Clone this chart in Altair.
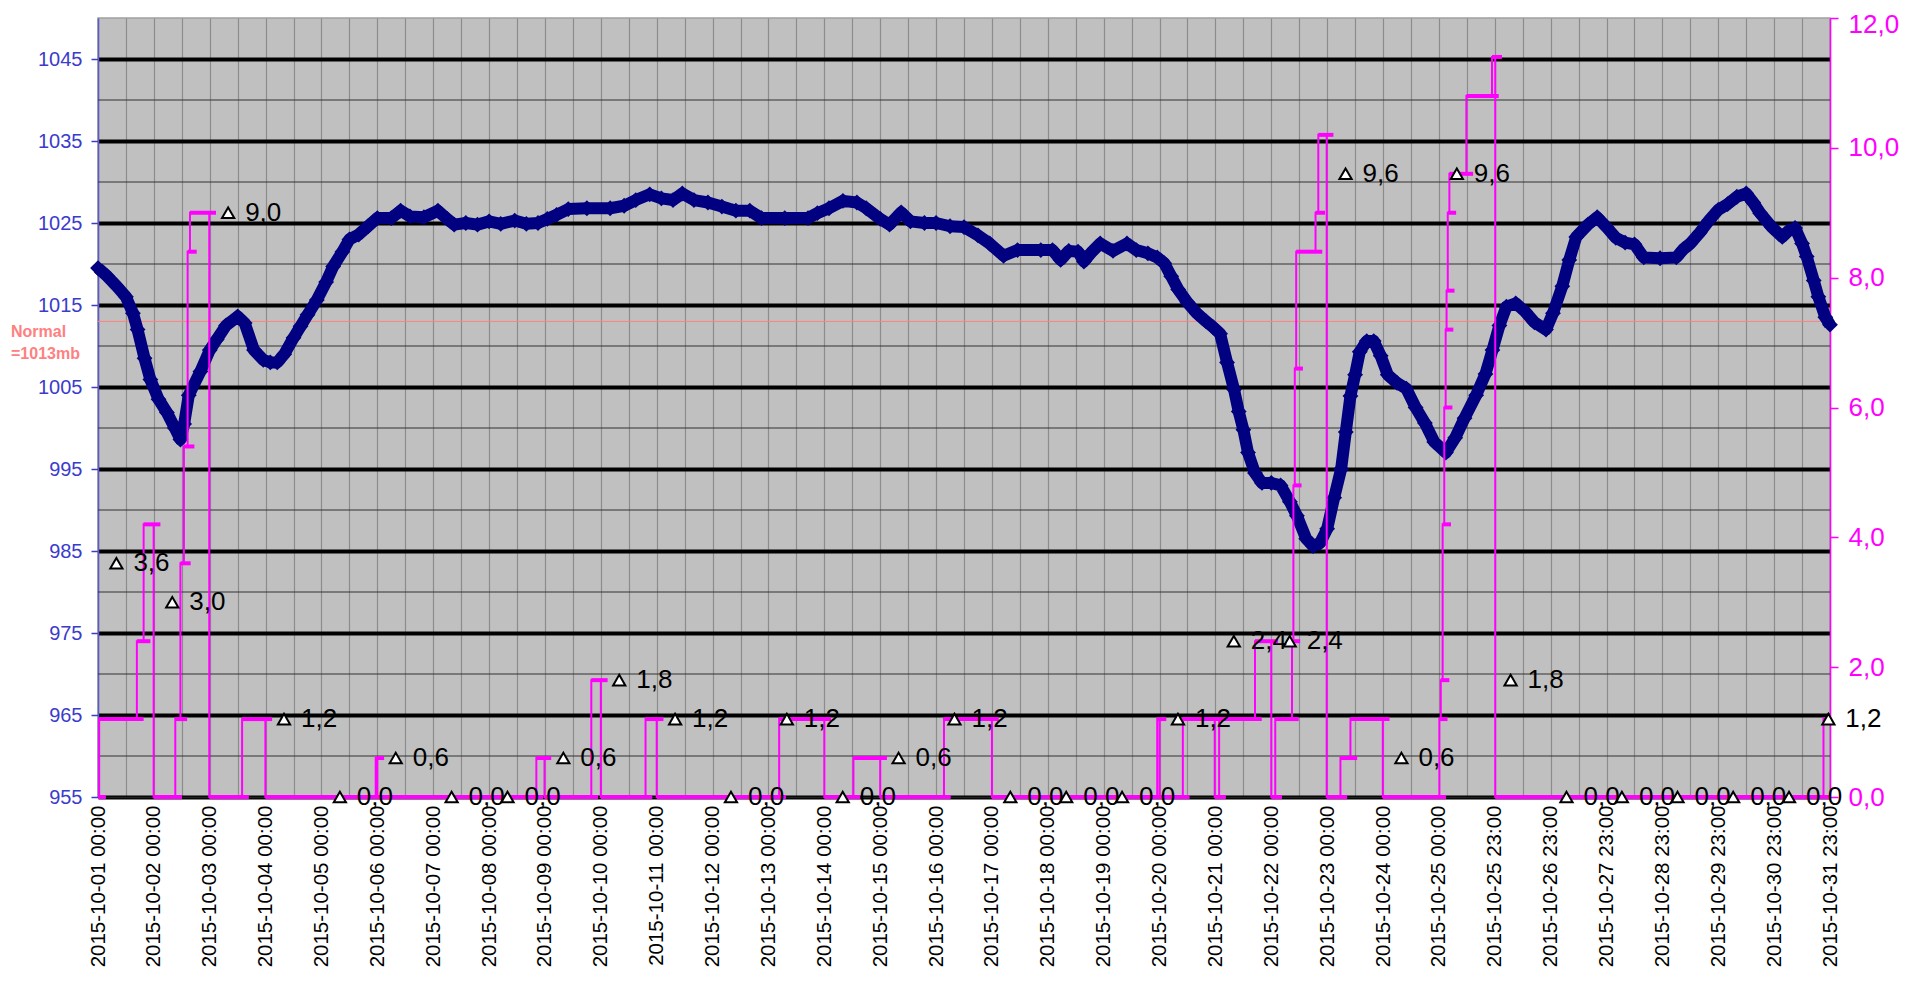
import json
import altair as alt
import pandas as pd

FONT = "Liberation Sans"
X_MAX = 744

x_labels = [
    "2015-10-01 00:00", "2015-10-02 00:00", "2015-10-03 00:00", "2015-10-04 00:00",
    "2015-10-05 00:00", "2015-10-06 00:00", "2015-10-07 00:00", "2015-10-08 00:00",
    "2015-10-09 00:00", "2015-10-10 00:00", "2015-10-11 00:00", "2015-10-12 00:00",
    "2015-10-13 00:00", "2015-10-14 00:00", "2015-10-15 00:00", "2015-10-16 00:00",
    "2015-10-17 00:00", "2015-10-18 00:00", "2015-10-19 00:00", "2015-10-20 00:00",
    "2015-10-21 00:00", "2015-10-22 00:00", "2015-10-23 00:00", "2015-10-24 00:00",
    "2015-10-25 00:00", "2015-10-25 23:00", "2015-10-26 23:00", "2015-10-27 23:00",
    "2015-10-28 23:00", "2015-10-29 23:00", "2015-10-30 23:00", "2015-10-31 23:00",
]

# pressure (mb), hour index from 2015-10-01 00:00
press_hours = [
    0, 4, 8, 12, 15, 17, 20, 22.5, 26, 29.6, 33, 35.4, 37, 39, 44, 48, 51, 55, 60, 63,
    67, 71, 74, 77, 80, 84, 87, 90, 94, 98, 101, 105, 108, 112, 116, 120, 126, 130, 134, 140,
    146, 150, 153, 158, 163, 168, 173, 179, 184, 189, 193, 197, 202, 210, 220, 226, 231, 237, 242, 247,
    251, 256, 262, 268, 274, 280, 285, 295, 305, 309, 314, 320, 326, 330, 336, 340, 345, 349, 355, 360,
    366, 372, 378, 383, 389, 395, 405, 410, 413.5, 417, 421, 423.5, 427, 430.5, 436, 442, 446, 451, 455, 458,
    461, 464, 468, 472, 476, 479, 482, 485, 488, 490, 492, 494, 497, 500, 504, 508, 512, 515, 519, 522,
    525, 528, 531, 534, 536, 538, 540, 542, 545, 548, 551, 554, 558, 562, 566, 570, 574, 579, 583, 587,
    592, 596, 599, 602, 605, 609, 613, 617, 622, 625, 629, 632, 635, 640, 644, 648, 652, 656, 660, 664,
    671, 678, 681, 684, 688, 692, 696, 700, 704, 708, 711, 714, 719, 723.5, 726, 729, 732, 734, 737, 739,
    742, 744,
]
press_values = [
    1019.5, 1018.5, 1017.3, 1016.0, 1014.0, 1012.0, 1008.5, 1005.9, 1003.5, 1001.9, 1000.0, 998.6, 1000.5, 1004.0, 1006.9, 1009.5, 1010.8, 1012.5, 1013.6, 1012.8,
    1009.5, 1008.3, 1008.0, 1008.0, 1009.0, 1011.0, 1012.4, 1013.8, 1015.6, 1017.8, 1019.7, 1021.5, 1023.0, 1023.6, 1024.6, 1025.6, 1025.6, 1026.5, 1025.8, 1025.7,
    1026.5, 1025.5, 1024.8, 1025.0, 1024.8, 1025.2, 1024.9, 1025.3, 1024.9, 1025.0, 1025.5, 1026.0, 1026.7, 1026.8, 1026.8, 1027.1, 1027.8, 1028.5, 1028.0, 1027.8,
    1028.6, 1027.8, 1027.5, 1027.0, 1026.5, 1026.5, 1025.6, 1025.6, 1025.6, 1026.2, 1026.8, 1027.7, 1027.5, 1026.8, 1025.5, 1024.8, 1026.3, 1025.2, 1025.0, 1025.0,
    1024.6, 1024.5, 1023.5, 1022.5, 1021.0, 1021.7, 1021.7, 1021.7, 1020.5, 1021.6, 1021.5, 1020.3, 1021.5, 1022.5, 1021.6, 1022.5, 1021.7, 1021.3, 1020.8, 1020.1,
    1018.5, 1016.9, 1015.3, 1014.0, 1013.0, 1012.3, 1011.5, 1008.0, 1004.7, 1002.0, 999.8, 997.0, 994.5, 993.3, 993.3, 993.0, 991.0, 989.3, 986.5, 985.6,
    986.0, 987.7, 991.5, 995.0, 999.5, 1003.9, 1006.5, 1009.3, 1010.6, 1010.6, 1008.8, 1006.5, 1005.5, 1004.8, 1002.5, 1000.6, 998.3, 997.0, 998.8, 1001.2,
    1004.0, 1006.6, 1009.5, 1012.5, 1014.8, 1015.2, 1014.2, 1012.9, 1012.0, 1014.0, 1017.3, 1020.5, 1023.3, 1024.8, 1025.7, 1024.5, 1023.2, 1022.6, 1022.4, 1020.8,
    1020.7, 1020.8, 1021.8, 1022.5, 1023.8, 1025.3, 1026.6, 1027.3, 1028.2, 1028.6, 1027.5, 1026.2, 1024.5, 1023.3, 1024.0, 1024.4, 1022.5, 1020.9, 1018.0, 1016.0,
    1013.5, 1012.6,
]

# rain accumulated during the day (mm): hour where a new value starts, and that value
rain_hours = [
    0, 0.5, 16.7, 19.6, 23.9, 33.2, 35.4, 36.9, 38.5, 39.5, 47.8, 61.9, 71.9, 119.3, 120,
    188.3, 191.8, 211.9, 216, 235.2, 240, 292.6, 312, 324.5, 336, 363.4, 384, 455, 456, 466,
    479.7, 481.6, 497, 504, 505.7, 512.9, 513.5, 514.1, 514.7, 523, 524.2, 527.8, 533.7, 538, 551.9,
    576.2, 576.8, 577.6, 578.3, 578.9, 579.3, 579.8, 580.5, 587.8, 598.8, 600.2, 741.2,
]
rain_values = [
    0, 1.2, 2.4, 4.2, 0, 1.2, 3.6, 5.4, 8.4, 9.0, 0, 1.2, 0, 0.6, 0,
    0.6, 0, 1.8, 0, 1.2, 0, 1.2, 0, 0.6, 0, 1.2, 0, 1.2, 0, 1.2,
    0, 1.2, 2.4, 0, 1.2, 2.4, 4.8, 6.6, 8.4, 9.0, 10.2, 0, 0.6, 1.2, 0,
    1.2, 1.8, 4.2, 6.0, 7.2, 7.8, 9.0, 9.6, 10.8, 11.4, 0, 1.2,
]

# daily totals (mm)
daily_hours = [
    7.9, 31.9, 55.9, 79.9, 103.9, 127.9, 151.9, 175.9, 199.9, 223.9, 247.9, 271.9, 295.9, 319.9, 343.9, 367.9,
    391.9, 415.9, 439.9, 463.9, 487.9, 511.9, 535.9, 559.9, 583.7, 606.8, 630.8, 654.6, 678.5, 702.4, 726.4, 743.3,
]
daily_values = [
    3.6, 3.0, 9.0, 1.2, 0.0, 0.6, 0.0, 0.0, 0.6, 1.8, 1.2, 0.0, 1.2, 0.0, 0.6, 1.2,
    0.0, 0.0, 0.0, 1.2, 2.4, 2.4, 9.6, 0.6, 9.6, 1.8, 0.0, 0.0, 0.0, 0.0, 0.0, 1.2,
]

minor_grid = [960, 970, 980, 990, 1000, 1010, 1020, 1030, 1040]
normal_p = 1013

# ---------- data frames ----------
pressure = pd.DataFrame({"h": press_hours, "p": press_values})
rain_line = pd.DataFrame({"h": rain_hours + [X_MAX], "r": rain_values + [rain_values[-1]]})
next_h = rain_hours[1:] + [X_MAX]
rain_seg = pd.DataFrame({
    "h": rain_hours,
    "h2": [min(n + 2.9, X_MAX) for n in next_h],
    "r": rain_values,
})
daily = pd.DataFrame({"h": daily_hours, "r": daily_values})
daily["lab"] = [f"{v:.1f}".replace(".", ",") for v in daily_values]
minor_df = pd.DataFrame({"p": minor_grid})
normal_df = pd.DataFrame({"p": [normal_p]})

# ---------- encodings ----------
label_js = json.dumps(x_labels)
X = alt.X(
    "h:Q",
    scale=alt.Scale(domain=[0, X_MAX], nice=False, zero=False),
    axis=alt.Axis(
        values=list(range(0, X_MAX + 1, 12)),
        labelExpr=f"datum.value % 24 == 0 ? {label_js}[datum.value / 24] : ''",
        labelAngle=270, labelFontSize=20.5, labelFont=FONT, labelColor="black",
        labelPadding=8, labelOverlap=False, labelFlush=False, labelBound=False,
        ticks=False, grid=True, gridColor="#8c8c8c", gridWidth=1.2,
        domainColor="#202020", domainWidth=1.5, title=None,
    ),
)

BLUE = "#3b3bcc"
Y_LEFT = alt.Y(
    "p:Q",
    scale=alt.Scale(domain=[955, 1050], nice=False, zero=False),
    axis=alt.Axis(
        values=list(range(955, 1046, 10)), orient="left", format="d",
        labelFontSize=20, labelFont=FONT, labelColor=BLUE, labelPadding=9,
        tickColor=BLUE, tickSize=7, tickWidth=1.5,
        domainColor="#5a5acd", domainWidth=1.5,
        grid=True, gridColor="black", gridWidth=4, title=None,
    ),
)

MAG = "#ff00ff"
Y_RIGHT = alt.Y(
    "r:Q",
    scale=alt.Scale(domain=[0, 12], nice=False, zero=True),
    axis=alt.Axis(
        values=list(range(0, 13, 2)), orient="right",
        labelExpr="replace(format(datum.value, '.1f'), '.', ',')",
        labelOffset=alt.ExprRef("datum.value == 12 ? 6 : 0"),
        labelFontSize=26, labelFont=FONT, labelColor=MAG, labelPadding=10,
        tickColor=MAG, tickSize=8, tickWidth=1.5,
        domainColor=MAG, domainWidth=1.5, grid=False, title=None,
    ),
)

# ---------- left (pressure) layers ----------
minor = alt.Chart(minor_df).mark_rule(color="#333333", strokeWidth=1.2).encode(y=Y_LEFT)
normal_rule = alt.Chart(normal_df).mark_rule(color="#ff8080", strokeWidth=1).encode(y=Y_LEFT)
normal_text = alt.Chart(normal_df).mark_text(
    align="left", baseline="top", dy=3, fontSize=16, fontWeight="bold",
    font=FONT, color="#ff8080", lineHeight=22,
).encode(y=Y_LEFT, x=alt.value(-87), text=alt.value(["Normal", "=1013mb"]))

p_line = alt.Chart(pressure).mark_line(color="#000080", strokeWidth=12, strokeJoin="round").encode(x=X, y=Y_LEFT)
p_pts = alt.Chart(pressure).mark_point(
    shape="diamond", filled=True, color="#000080", size=250, opacity=1
).encode(x=X, y=Y_LEFT)

left = alt.layer(minor, normal_rule, normal_text, p_line, p_pts)

# ---------- right (rain) layers ----------
r_line = alt.Chart(rain_line).mark_line(
    color=MAG, strokeWidth=2, interpolate="step-after"
).encode(x=X, y=Y_RIGHT)
r_seg = alt.Chart(rain_seg).mark_rule(color=MAG, strokeWidth=4).encode(
    x=X, x2=alt.X2("h2"), y=Y_RIGHT
)
tri = alt.Chart(daily).mark_point(
    shape="triangle-up", filled=True, fill="white", stroke="black",
    strokeWidth=2, size=150, opacity=1,
).encode(x=X, y=Y_RIGHT)
tri_lab = alt.Chart(daily).mark_text(
    align="left", baseline="middle", dx=17, fontSize=26, font=FONT, color="black"
).encode(x=X, y=Y_RIGHT, text="lab:N")

right = alt.layer(r_line, r_seg, tri, tri_lab)

chart = (
    alt.layer(left, right)
    .resolve_scale(y="independent")
    .properties(
        width=1732, height=779,
        padding={"left": 90, "top": 10, "right": 85, "bottom": 176},
        autosize=alt.AutoSizeParams(type="none"),
        background="white",
    )
    .configure_view(fill="#c0c0c0", stroke="#a0a0a0", strokeWidth=1.5)
)

chart.save("out.html", embed_options={"renderer": "svg", "actions": False})
